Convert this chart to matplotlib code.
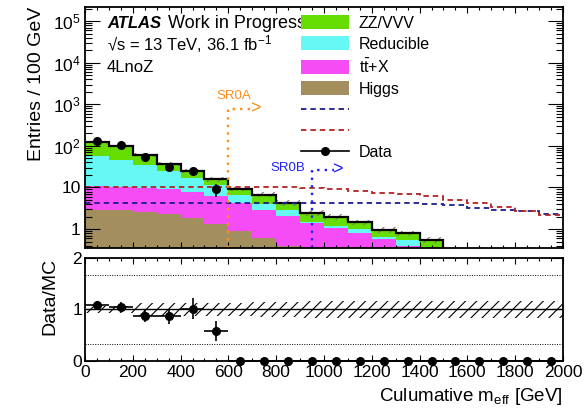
import matplotlib
matplotlib.use("Agg")
import matplotlib.pyplot as plt
import numpy as np
from matplotlib.lines import Line2D
from matplotlib.patches import Patch
from matplotlib.ticker import MultipleLocator, FuncFormatter, LogLocator

plt.rcParams['font.family'] = ['Liberation Sans', 'DejaVu Sans']
plt.rcParams['mathtext.fontset'] = 'custom'
plt.rcParams['mathtext.rm'] = 'Liberation Sans'
plt.rcParams['mathtext.it'] = 'Liberation Sans:italic'
plt.rcParams['mathtext.bf'] = 'Liberation Sans:bold'
plt.rcParams['mathtext.default'] = 'regular'
plt.rcParams['hatch.linewidth'] = 0.8

# cumulative m_eff, 100 GeV bins from 0 to 2000
bin_edges = np.arange(0, 2001, 100)
higgs = [2.95, 2.8, 2.6, 2.3, 1.8, 1.3, 0.92, 0.6, 0.39, 0.25,
         0.2, 0.15, 0.12, 0.1, 0.08, 0.06, 0.05, 0.04, 0.03, 0.02]
ttx = [7.65, 7.4, 7.2, 7.0, 6.2, 4.9, 3.28, 2.35, 1.71, 1.18,
       0.85, 0.67, 0.45, 0.3, 0.17, 0.09, 0.07, 0.05, 0.04, 0.03]
reducible = [45.4, 36.3, 24.2, 15.0, 9.0, 5.0, 2.5, 0.95, 0.8, 0.07,
             0.14, 0.18, 0.09, 0.13, 0.05, 0.03, 0.02, 0.02, 0.01, 0.01]
zz_vvv = [68.0, 54.5, 27.0, 12.7, 7.7, 4.4, 2.6, 2.8, 1.4, 1.0,
          0.81, 0.46, 0.3, 0.26, 0.26, 0.12, 0.1, 0.08, 0.06, 0.05]
data = [134, 106, 53, 32, 25, 9, 0, 0, 0, 0,
        0, 0, 0, 0, 0, 0, 0, 0, 0, 0]
syst_rel = [0.065, 0.065, 0.12, 0.12, 0.12, 0.12, 0.13, 0.14, 0.15, 0.16,
            0.16, 0.16, 0.16, 0.16, 0.16, 0.16, 0.16, 0.16, 0.16, 0.16]
sig_blue = [4.3, 4.3, 4.3, 4.3, 4.3, 4.3, 4.3, 4.3, 4.3, 4.2,
            4.2, 4.2, 4.2, 4.2, 4.0, 3.7, 3.2, 2.95, 2.7, 2.3]
sig_red = [10.2, 10.2, 10.2, 10.2, 10.2, 10.2, 10.2, 10.2, 10.2, 9.5,
           9.2, 8.2, 7.4, 6.9, 6.2, 4.9, 4.2, 3.35, 2.7, 2.2]

centers = 0.5 * (bin_edges[1:] + bin_edges[:-1])
data = np.array(data, dtype=float)
syst_rel = np.array(syst_rel)

fig = plt.figure(figsize=(5.84, 4.09), dpi=100)
ax = fig.add_axes([0.1455, 0.3936, 0.8185, 0.5893])
rax = fig.add_axes([0.1455, 0.1174, 0.8185, 0.2518])

layers = [(higgs, '#a38f5e'), (ttx, '#f64cf6'), (reducible, '#66f8f4'), (zz_vvv, '#66dd00')]
bottom = np.full(len(centers), 1e-3)
for vals, col in layers:
    top = bottom + np.array(vals)
    ax.stairs(top, bin_edges, baseline=bottom, fill=True, color=col, lw=0)
    bottom = top
total = bottom

# MC uncertainty band
ax.stairs(total * (1 + syst_rel), bin_edges, baseline=total * (1 - syst_rel), fill=True,
          facecolor='none', edgecolor='#777777', hatch='///', lw=0)
ax.stairs(total, bin_edges, baseline=None, color='k', lw=1.6)

ax.stairs(sig_blue, bin_edges, baseline=None, color='#1c1c8c', lw=1.3, linestyle=(0, (3, 2.2)))
ax.stairs(sig_red, bin_edges, baseline=None, color='#b22222', lw=1.3, linestyle=(0, (3, 2.2)))

has = data > 0
ax.errorbar(centers[has], data[has], yerr=np.sqrt(data[has]), fmt='o', color='k',
            ms=5.5, lw=1.2, capsize=0, zorder=5)

# signal region markers
ax.plot([600, 600, 700], [0.35, 790, 790], color='#ff8c1a', lw=1.7, linestyle=(0, (1, 2.2)))
ax.text(712, 790, '>', color='#ff8c1a', fontsize=13, ha='center', va='center')
ax.text(548, 1370, 'SR0A', color='#ff8c1a', fontsize=9.5, ha='left', va='baseline')
ax.plot([950, 950, 1040], [0.35, 27, 27], color='#1f1fff', lw=1.7, linestyle=(0, (1, 2.2)))
ax.text(1055, 27, '>', color='#1f1fff', fontsize=13, ha='center', va='center')
ax.text(922, 25, 'SR0B', color='#1f1fff', fontsize=9.5, ha='right', va='baseline')

ax.set_yscale('log')
ax.set_ylim(0.35, 2.2e5)
ax.yaxis.set_major_locator(LogLocator(base=10, numticks=10))
ax.yaxis.set_minor_locator(LogLocator(base=10, subs=np.arange(2, 10), numticks=20))


def logfmt(v, pos):
    if abs(v - 1) < 1e-6:
        return '1'
    if abs(v - 10) < 1e-6:
        return '10'
    return r'$10^{%d}$' % round(np.log10(v))


ax.yaxis.set_major_formatter(FuncFormatter(logfmt))

ax.text(0.046, 0.9116, 'ATLAS', transform=ax.transAxes, fontsize=12,
        fontweight='bold', fontstyle='italic', va='baseline')
ax.text(0.174, 0.9116, 'Work in Progress', transform=ax.transAxes, fontsize=13, va='baseline')
ax.text(0.046, 0.8216, '√s = 13 TeV, 36.1 fb$^{-1}$', transform=ax.transAxes,
        fontsize=12, va='baseline')
ax.text(0.046, 0.7315, '4LnoZ', transform=ax.transAxes, fontsize=12, va='baseline')

handles = [Patch(facecolor='#66dd00', lw=0), Patch(facecolor='#66f8f4', lw=0),
           Patch(facecolor='#f64cf6', lw=0), Patch(facecolor='#a38f5e', lw=0),
           Line2D([], [], color='#1c1c8c', lw=1.3, linestyle=(0, (3, 2.2))),
           Line2D([], [], color='#b22222', lw=1.3, linestyle=(0, (3, 2.2))),
           Line2D([], [], color='k', lw=1.2, marker='o', ms=5.5)]
labels = ['ZZ/VVV', 'Reducible', r't$\bar{t}$+X', 'Higgs', '', '', 'Data']
ax.legend(handles, labels, loc='upper left', bbox_to_anchor=(0.452, 0.965), frameon=False,
          fontsize=11.5, handlelength=3.0, handleheight=0.97, handletextpad=0.6,
          labelspacing=0.35, borderpad=0, borderaxespad=0)

ax.set_ylabel('Entries / 100 GeV', fontsize=14, loc='top', labelpad=6)

# ratio panel
ratio = data / total
ratio_err = np.sqrt(data) / total
rax.stairs(1 + syst_rel, bin_edges, baseline=1 - syst_rel, fill=True,
           facecolor='none', edgecolor='k', hatch='///', lw=0)
rax.axhline(1, color='k', lw=1.0)
rax.axhline(0.33, color='k', lw=0.7, linestyle=(0, (1, 1.5)))
rax.axhline(1.67, color='k', lw=0.7, linestyle=(0, (1, 1.5)))
rax.errorbar(centers, ratio, xerr=50, yerr=ratio_err, fmt='o', color='k', ms=5.5,
             lw=1.2, capsize=0, clip_on=False, zorder=5)
rax.set_ylim(0, 2)
rax.set_yticks([0, 1, 2])
rax.set_ylabel('Data/MC', fontsize=14, loc='top', labelpad=10)
rax.set_xlabel('Culumative m$_{\\rm eff}$ [GeV]', fontsize=13.5, loc='right')

for a in (ax, rax):
    a.set_xlim(0, 2000)
    a.xaxis.set_major_locator(MultipleLocator(200))
    a.xaxis.set_minor_locator(MultipleLocator(50))
    a.tick_params(which='both', direction='in', top=True, right=True, width=0.8,
                  labelsize=12.5)
    a.tick_params(axis='x', which='major', length=4)
    a.tick_params(axis='x', which='minor', length=2)
    for s in a.spines.values():
        s.set_linewidth(1.3)
ax.tick_params(axis='y', which='major', length=11, pad=3)
ax.tick_params(axis='y', which='minor', length=5)
ax.tick_params(labelbottom=False)
rax.tick_params(axis='y', which='major', length=8, pad=2)
rax.tick_params(axis='x', pad=3)

fig.savefig('out.png', dpi=100)
